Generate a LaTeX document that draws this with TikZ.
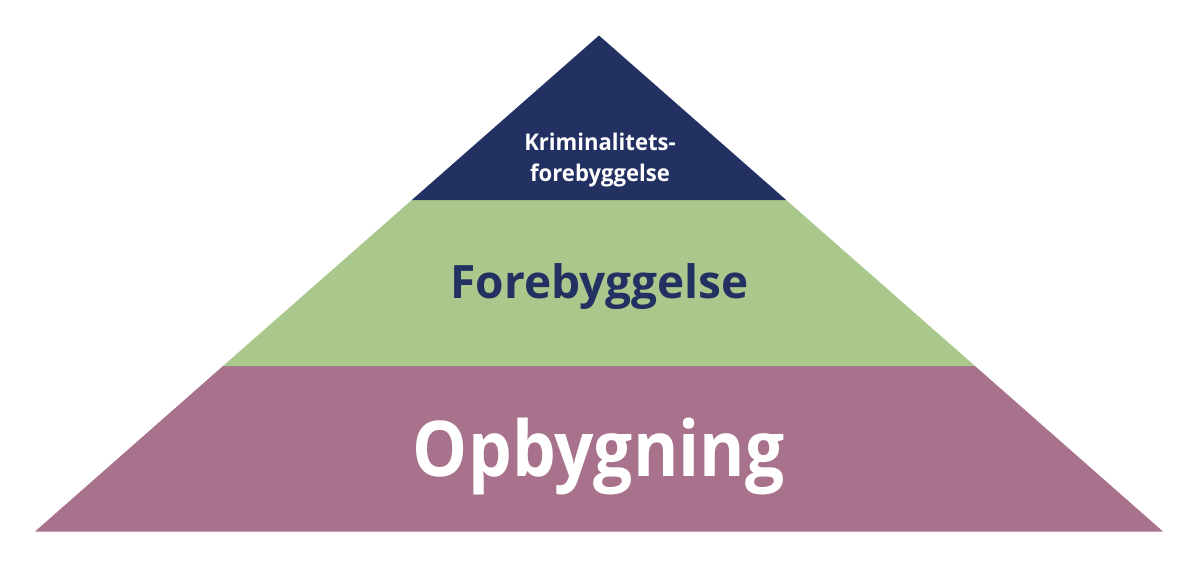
\documentclass[tikz,border=0pt]{standalone}
\usepackage{fontspec}
\setmainfont{Open Sans}
\definecolor{navy}{RGB}{35,49,98}
\definecolor{sage}{RGB}{171,200,140}
\definecolor{mauve}{RGB}{168,113,140}
\tikzset{
  lbl/.style={anchor=base, inner sep=0pt, font=\bfseries},
}
\begin{document}
\begin{tikzpicture}[x=1pt,y=-1pt]
\useasboundingbox (0,0) rectangle (1198,568);
\coordinate (apex) at (599,35.5);
\coordinate (l1) at (411.8,200);
\coordinate (r1) at (786.2,200);
\coordinate (l2) at (223,366);
\coordinate (r2) at (975,366);
\coordinate (bl) at (35,531.5);
\coordinate (br) at (1163,531.5);
\fill[mauve] (l2) -- (r2) -- (br) -- (bl) -- cycle;
\fill[sage] (l1) -- (r1) -- (r2) -- (l2) -- cycle;
\fill[navy] (apex) -- (r1) -- (l1) -- cycle;
\node[lbl, text=white, font=\bfseries\fontsize{23}{28}\selectfont] (k1) at (600,150.5) {\scalebox{0.96}[1]{Kriminalitets-}};
\node[lbl, text=white, font=\bfseries\fontsize{23}{28}\selectfont] (k2) at (600,181.5) {\scalebox{0.96}[1]{forebyggelse}};
\node[lbl, text=navy, font=\bfseries\fontsize{46}{50}\selectfont] (f) at (599.7,298.3) {Forebyggelse};
\node[lbl, text=white, font=\bfseries\fontsize{77}{80}\selectfont] (o) at (598.7,476) {\scalebox{0.9}[1]{Opbygning}};
\end{tikzpicture}
\end{document}
